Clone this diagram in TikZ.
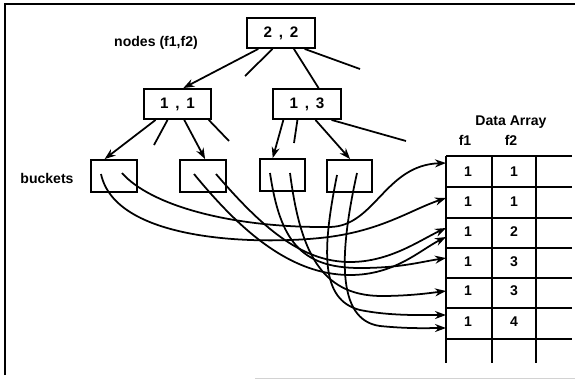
\documentclass[tikz,border=0pt]{standalone}
\usepackage{fontspec}
\setmainfont{Liberation Sans}
\usetikzlibrary{arrows.meta}

\tikzset{
  box/.style={draw,line width=1.6pt,inner sep=0pt},
  treenode/.style={box,minimum width=20.2mm,minimum height=9mm,
    font=\bfseries\fontsize{13}{15}\selectfont},
  bucket/.style={box,minimum width=13.6mm,minimum height=9.6mm},
  tip/.style={-{Stealth[length=3.3mm,width=2.4mm]}},
}

\begin{document}
\begin{tikzpicture}[x=0.3mm,y=-0.3mm,line width=1.5pt,
    font=\bfseries\fontsize{12}{14}\selectfont]

      \useasboundingbox (0,0) rectangle (579,379);

      % Frame
      \draw (5,375) -- (5,4) -- (575,4);
      \draw[gray!35,line width=0.8pt] (255,378) -- (575,378);

      % Labels
      \node (lnodes) at (156,43) {nodes (f1,f2)};
      \node (lbuckets) at (47,178) {buckets};
      \node (ldata) at (511,122) {Data Array};
      \node (lf1) at (465,140) {f1};
      \node (lf2) at (511,140) {f2};

      % Tree nodes
      \node[treenode] (n22) at (281,33) {2\ \,,\ \,2};
      \node[treenode] (n11) at (177.5,104) {1\ \,,\ \,1};
      \node[treenode] (n13) at (307,104) {1\ \,,\ \,3};

      % Buckets
      \node[bucket] (b1) at (114,176) {};
      \node[bucket] (b2) at (203,176) {};
      \node[bucket] (b3) at (282.5,175) {};
      \node[bucket] (b4) at (349.5,176) {};

      % Free ends of the unused branches
      \coordinate (s1) at (245,76);
      \coordinate (s2) at (360,69);
      \coordinate (s3) at (154,145);
      \coordinate (s4) at (229,141);
      \coordinate (s5) at (294,143);
      \coordinate (s6) at (406,141);

      % Branches
      \draw[tip] (n22.215) -- (n11.70);
      \draw (n22.242) -- (s1);
      \draw (n22.309) -- (n13.54);
      \draw (n22.326) -- (s2);
      \draw[tip] (n11.216) -- (b1.119);
      \draw (n11.238) -- (s3);
      \draw[tip] (n11.293) -- (b2.83);
      \draw (n11.333) -- (s4);
      \draw[tip] (n13.214) -- (b3.120);
      \draw (n13.239) -- (s5);
      \draw[tip] (n13.298) -- (b4.88);
      \draw (n13.327) -- (s6);

      % Data array
      \foreach \y in {156,187,218,248,278,308,339}
        \draw (446,\y) -- (572,\y);
      \foreach \x in {446,492,536}
        \draw (\x,156) -- (\x,363);
      \foreach \f/\g/\y [count=\i] in {1/1/172,1/1/202,1/2/232,1/3/262,1/3/291,1/4/322} {
        \node (fa\i) at (468,\y) {\f};
        \node (fb\i) at (514,\y) {\g};
      }
      \foreach \y [count=\i] in {163,198,228,237,258,291,315,328}
        \coordinate (t\i) at (446,\y);

      % Pointers from the buckets
      \coordinate (b1l) at (101,174);
      \coordinate (b1r) at (122,173);
      \coordinate (b2l) at (194,174);
      \coordinate (b2r) at (216,174);
      \coordinate (b3l) at (270,173);
      \coordinate (b3r) at (290,173);
      \coordinate (b4l) at (337,175);
      \coordinate (b4r) at (357,173);

      \draw[tip] (b1r) .. controls (150,205) and (230,228) .. (330,227)
        .. controls (375,226) and (385,165) .. (t1);
      \draw[tip] (b1l) .. controls (115,240) and (250,245) .. (320,238)
        .. controls (380,232) and (410,210) .. (t2);
      \draw[tip] (b2r) .. controls (260,225) and (300,262) .. (350,262)
        .. controls (390,262) and (420,240) .. (t3);
      \draw[tip] (b2l) .. controls (240,230) and (290,275) .. (350,275)
        .. controls (395,275) and (420,250) .. (t4);
      \draw[tip] (b3l) .. controls (280,240) and (300,268) .. (360,268)
        .. controls (400,268) and (420,262) .. (t5);
      \draw[tip] (b3r) .. controls (300,250) and (320,295) .. (380,296)
        .. controls (410,296) and (430,293) .. (t6);
      \draw[tip] (b4l) .. controls (322,250) and (320,300) .. (360,310)
        .. controls (390,316) and (420,315) .. (t7);
      \draw[tip] (b4r) .. controls (340,250) and (335,320) .. (380,326)
        .. controls (410,329) and (430,328) .. (t8);

    \end{tikzpicture}
\end{document}
